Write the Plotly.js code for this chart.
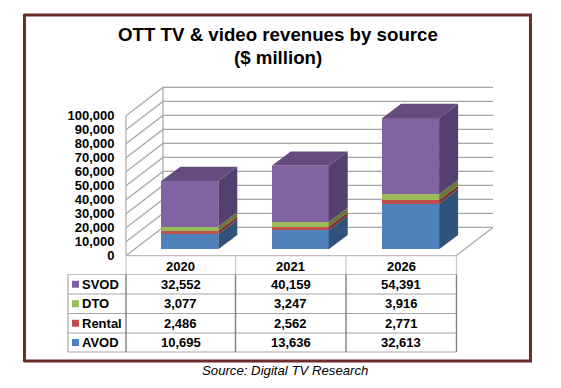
<!DOCTYPE html>
<html><head><meta charset="utf-8">
<script src="https://cdn.plot.ly/plotly-3.0.1.min.js"></script>
<style>html,body{margin:0;padding:0;background:#fff}#c{width:561px;height:388px}</style>
</head><body><div id="c"></div>
<script>
const years = ['2020','2021','2026'];
const seriesNames = ['AVOD','Rental','DTO','SVOD'];
const avod = [10695,13636,32613];
const rental = [2486,2562,2771];
const dto = [3077,3247,3916];
const svod = [32552,40159,54391];
const frontColors = ['#4F81BD','#C0504D','#9BBB59','#8064A2'];
const sideColors = ['#31527A','#7C3331','#66793A','#553F6E'];
const topColor = '#644C7E';
const tableRows = ['SVOD','DTO','Rental','AVOD'];
const axisTicks = [0,10000,20000,30000,40000,50000,60000,70000,80000,90000,100000];

const W=561,H=388;
const values=[avod,rental,dto,svod];
const step=110.4, x0px=189.8, scale=1.4/1000;
const baseFront=255.7, baseBar=249.3;
const xr=[(0-x0px)/step,(W-x0px)/step];
const yrMain=[(baseFront-H)/scale,(baseFront-0)/scale];
const yrBar=[(baseBar-H)/scale,(baseBar-0)/scale];
const xpx=p=>(p-x0px)/step;
const barW=57/step, depthX=19/step, depthY=14.3/scale;
const wallX=37/step, wallY=28.3/scale;
const fl=xpx(126), fr=xpx(456);

const traces=[];
const gx=[],gy=[];
axisTicks.forEach(v=>{gx.push(fl,fl+wallX,fr+wallX,null);gy.push(v,v+wallY,v+wallY,null);});
gx.push(fl,fl,null,fl+wallX,fl+wallX,null,fr,fr+wallX);
gy.push(0,100000,null,wallY,100000+wallY,null,0,wallY);
traces.push({x:gx,y:gy,mode:'lines',type:'scatter',line:{color:'#A6A6A6',width:1.2},hoverinfo:'skip',showlegend:false,xaxis:'x',yaxis:'y'});
seriesNames.forEach((n,i)=>{
  traces.push({type:'bar',name:n,x:[0,1,2],y:values[i],width:barW,marker:{color:frontColors[i],line:{width:0}},xaxis:'x',yaxis:'y2',showlegend:false});
});
const cum=[0,0,0];
seriesNames.forEach((n,i)=>{
  const sx=[],sy=[];
  [0,1,2].forEach(k=>{
    const a=cum[k],b=a+values[i][k],r=k+barW/2;
    sx.push(r,r+depthX,r+depthX,r,r,null);
    sy.push(a,a+depthY,b+depthY,b,a,null);
    cum[k]=b;
  });
  traces.push({x:sx,y:sy,type:'scatter',mode:'lines',fill:'toself',fillcolor:sideColors[i],line:{width:0,color:sideColors[i]},hoverinfo:'skip',showlegend:false,xaxis:'x',yaxis:'y2'});
});
const tx=[],ty=[];
[0,1,2].forEach(k=>{
  const l=k-barW/2,r=k+barW/2,t=cum[k];
  tx.push(l,r,r+depthX,l+depthX,l,null);
  ty.push(t,t,t+depthY,t+depthY,t,null);
});
traces.push({x:tx,y:ty,type:'scatter',mode:'lines',fill:'toself',fillcolor:topColor,line:{width:0,color:topColor},hoverinfo:'skip',showlegend:false,xaxis:'x',yaxis:'y2'});

const px=v=>v/W, py=v=>1-v/H;
const colX=[68,126,235.5,346,456.5];
const rowY=[255.7,274.5,294,313.5,333,352];
const shapes=[],ann=[];
const line=(x1,y1,x2,y2,c,w)=>shapes.push({type:'line',xref:'paper',yref:'paper',x0:px(x1),x1:px(x2),y0:py(y1),y1:py(y2),line:{color:c,width:w},layer:'above'});
const frameColor='#6E2C2A';
line(24,15,532,15,frameColor,3);
line(24,361,532,361,frameColor,3);
line(24.5,14,24.5,362,frameColor,3);
line(530.5,14,530.5,362,frameColor,3);
rowY.forEach((y,i)=>{ if(i>=1) line(colX[0],y,colX[4],y,i==1?'#BDBDBD':'#A6A6A6',1.2); });
line(colX[1],rowY[0],colX[4],rowY[0],'#BDBDBD',1.2);
line(colX[0],rowY[1],colX[0],rowY[5],'#A6A6A6',1.2);
[1,2,3,4].forEach(i=>{
  line(colX[i],rowY[0],colX[i],rowY[1],'#C8C8C8',1.2);
  line(colX[i],rowY[1],colX[i],rowY[5],'#808080',1.4);
});
const tf={family:'Liberation Sans, Arial, sans-serif',size:13,color:'#000'};
const txt=(x,y,s,anchor)=>ann.push({xref:'paper',yref:'paper',x:px(x),y:py(y),text:'<b>'+s+'</b>',showarrow:false,xanchor:anchor||'center',yanchor:'middle',font:tf,borderpad:0});
years.forEach((yr,c)=>txt((colX[c+1]+colX[c+2])/2,rowY[0]+11,yr));
const rowVals={SVOD:svod,DTO:dto,Rental:rental,AVOD:avod};
const keyColor={SVOD:frontColors[3],DTO:frontColors[2],Rental:frontColors[1],AVOD:frontColors[0]};
tableRows.forEach((r,i)=>{
  const cy=(rowY[i+1]+rowY[i+2])/2;
  shapes.push({type:'rect',xref:'paper',yref:'paper',x0:px(72),x1:px(79),y0:py(cy-3.5),y1:py(cy+3.5),fillcolor:keyColor[r],line:{width:0},layer:'above'});
  txt(80.5,cy,r,'left');
  rowVals[r].forEach((v,c)=>txt((colX[c+1]+colX[c+2])/2,cy,v.toLocaleString('en-US')));
});
const titleFont={family:'Liberation Sans, Arial, sans-serif',size:18.7,color:'#000'};
ann.push({xref:'paper',yref:'paper',x:px(278),y:py(34.5),text:'<b>OTT TV &amp; video revenues by source</b>',showarrow:false,xanchor:'center',yanchor:'middle',font:titleFont});
ann.push({xref:'paper',yref:'paper',x:px(278),y:py(57.5),text:'<b>($ million)</b>',showarrow:false,xanchor:'center',yanchor:'middle',font:titleFont});
ann.push({xref:'paper',yref:'paper',x:px(284.5),y:py(370.5),text:'<i>Source: Digital TV Research</i>',showarrow:false,xanchor:'center',yanchor:'middle',font:{family:'Liberation Sans, Arial, sans-serif',size:13.2,color:'#000'}});

const layout={
  width:W,height:H,margin:{l:0,r:0,t:0,b:0},paper_bgcolor:'#fff',plot_bgcolor:'#fff',
  barmode:'stack',bargap:0,showlegend:false,
  xaxis:{range:xr,visible:false,fixedrange:true,domain:[0,1]},
  yaxis:{range:yrMain,anchor:'free',position:114.5/W,side:'left',tickmode:'array',tickvals:axisTicks,ticktext:axisTicks.map(v=>v.toLocaleString('en-US')),showgrid:false,zeroline:false,showline:false,ticks:'',tickfont:{family:'Liberation Sans, Arial, sans-serif',size:13,color:'#000',weight:'bold'},fixedrange:true},
  yaxis2:{range:yrBar,overlaying:'y',visible:false,fixedrange:true},
  shapes:shapes,annotations:ann
};
Plotly.newPlot('c',traces,layout,{displayModeBar:false,staticPlot:true});
</script></body></html>
